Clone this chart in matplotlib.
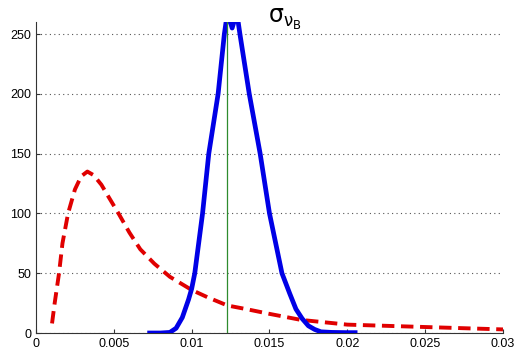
import matplotlib
matplotlib.use("Agg")
import matplotlib.pyplot as plt

plt.rcParams['font.family'] = ['Liberation Sans', 'DejaVu Sans']

# Blue (posterior) curve
blue_x = [0.0073, 0.0080, 0.0086, 0.0090, 0.0094, 0.0098, 0.0100, 0.0102,
          0.0107, 0.0111, 0.0117, 0.0121, 0.0123, 0.0126, 0.0129,
          0.0131, 0.0137, 0.0144, 0.0150, 0.0158, 0.0163, 0.0167,
          0.0171, 0.0175, 0.0179, 0.0183, 0.0190, 0.0200, 0.0205]
blue_y = [0, 0, 0.5, 4, 13, 28, 37, 50,
          100, 150, 200, 250, 268, 255, 268,
          250, 200, 150, 100, 50, 33, 20,
          12, 6, 3, 1, 0.5, 0.3, 0.3]

# Red dashed (prior) curve
red_x = [0.00103, 0.0012, 0.00148, 0.0017, 0.00206, 0.0025, 0.0029, 0.0033, 0.0037,
         0.0042, 0.0047, 0.0053, 0.0060, 0.0067, 0.0076, 0.0086, 0.0100, 0.0110,
         0.0123, 0.0135, 0.0150, 0.0170, 0.0200, 0.0225, 0.0250, 0.0275, 0.0300]
red_y = [8, 25, 50, 75, 100, 120, 131, 135, 132,
         124, 113, 100, 84, 70, 58, 47, 36, 30,
         23, 20, 16, 11, 7, 6, 5, 4, 3]

marker_x = 0.0123
title_text = r'$\mathrm{\sigma_{\nu_{B}}}$'
xticks = [0, 0.005, 0.01, 0.015, 0.02, 0.025, 0.03]
xticklabels = ['0', '0.005', '0.01', '0.015', '0.02', '0.025', '0.03']
yticks = [0, 50, 100, 150, 200, 250]

fig = plt.figure(figsize=(5.18, 3.56), dpi=100)
ax = fig.add_axes([0.0695, 0.0646, 0.9015, 0.8734])

ax.plot(red_x, red_y, color='#e00000', lw=2.8, ls=(0, (3.2, 1.7)), zorder=3)
ax.plot(blue_x, blue_y, color='#0000e6', lw=3.4, zorder=4)
ax.axvline(marker_x, color='#2e8b2e', lw=0.9, zorder=5)

ax.set_xlim(0, 0.03)
ax.set_ylim(0, 260)
ax.set_xticks(xticks)
ax.set_xticklabels(xticklabels)
ax.set_yticks(yticks)
ax.tick_params(direction='in', labelsize=9, length=3, color='#333333')
ax.yaxis.grid(True, ls=(0, (1, 3)), color='#555555', lw=0.8)
for s in ['top', 'right']:
    ax.spines[s].set_visible(False)
for s in ['left', 'bottom']:
    ax.spines[s].set_color('#333333')

ax.text(0.0160, 252, title_text, fontsize=17, ha='center', va='bottom',
        clip_on=False)

fig.savefig('out.png', dpi=100)
